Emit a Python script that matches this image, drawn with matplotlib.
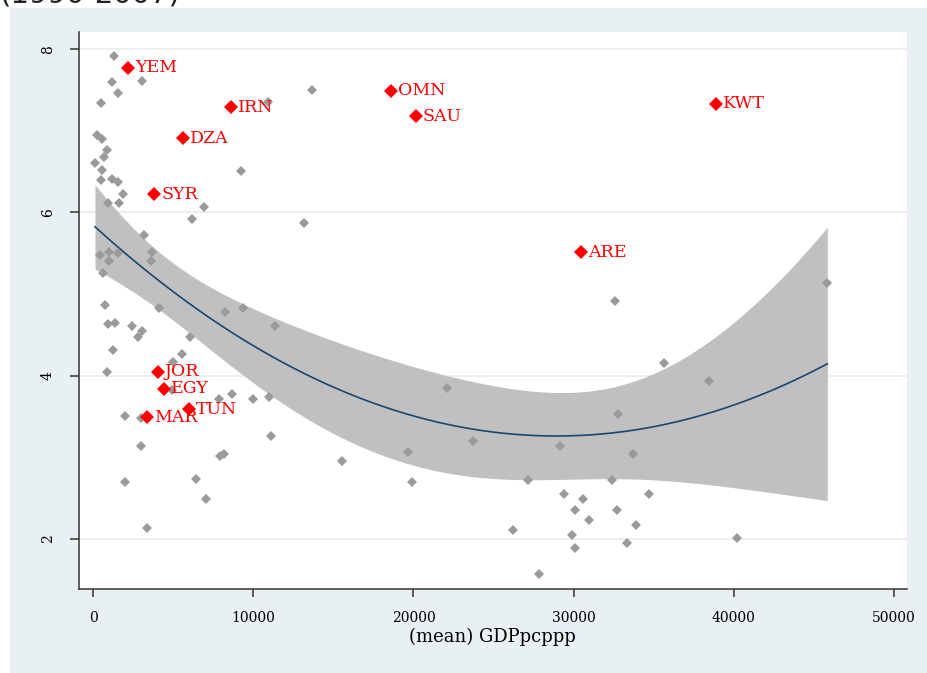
import numpy as np
import matplotlib
matplotlib.use("Agg")
import matplotlib.pyplot as plt
from matplotlib.patches import Rectangle

# country averages 1990-2007: GDP per capita (PPP) vs. index score
gdp_other = [1312, 1149, 3073, 1562, 450, 231, 543, 837, 668, 106,
             543, 481, 1168, 1562, 1874, 899, 1605, 6914, 6134, 9225,
             13679, 10931, 13179, 3179, 3666, 3573, 418, 1012, 968, 1562,
             637, 750, 4104, 8239, 9331, 11349, 937, 1355, 2448, 3023,
             2761, 6021, 1249, 5521, 4978, 856, 4897, 7851, 8644, 9944,
             10974, 1961, 2979, 11080, 2979, 7914, 8163, 1961, 6415, 7020,
             3373, 15515, 19637, 19887, 22073, 23697, 26227, 27151, 27851, 29163,
             29381, 30587, 30087, 30980, 29900, 30087, 32604, 32773, 33710, 32398,
             34740, 32710, 33928, 33316, 35646, 38475, 40187, 45846]
score_other = [7.92, 7.60, 7.61, 7.46, 7.34, 6.95, 6.90, 6.76, 6.68, 6.61,
               6.52, 6.40, 6.41, 6.37, 6.23, 6.11, 6.12, 6.07, 5.92, 6.51,
               7.50, 7.35, 5.87, 5.72, 5.51, 5.41, 5.48, 5.51, 5.40, 5.50,
               5.26, 4.87, 4.83, 4.78, 4.83, 4.61, 4.63, 4.65, 4.61, 4.55,
               4.47, 4.47, 4.32, 4.27, 4.17, 4.05, 3.82, 3.71, 3.78, 3.71,
               3.74, 3.50, 3.48, 3.26, 3.14, 3.02, 3.04, 2.70, 2.74, 2.49,
               2.13, 2.96, 3.06, 2.70, 3.85, 3.20, 2.11, 2.72, 1.57, 3.14,
               2.55, 2.49, 2.35, 2.23, 2.05, 1.89, 4.91, 3.53, 3.04, 2.72,
               2.55, 2.35, 2.17, 1.95, 4.15, 3.93, 2.01, 5.14]

# MENA countries, highlighted
mena = ["YEM", "IRN", "DZA", "SYR", "OMN", "SAU", "KWT", "ARE", "JOR", "EGY", "TUN", "MAR"]
gdp_mena = [2167, 8601, 5621, 3810, 18594, 20137, 38875, 30443, 4041, 4435, 5959, 3335]
score_mena = [7.77, 7.29, 6.91, 6.22, 7.49, 7.18, 7.33, 5.51, 4.05, 3.84, 3.59, 3.49]

xticks = [0, 10000, 20000, 30000, 40000, 50000]
yticks = [2, 4, 6, 8]

# quadratic fit with 95% CI of the prediction (like qfitci)
x_all = np.array(gdp_other + gdp_mena, dtype=float)
y_all = np.array(score_other + score_mena, dtype=float)
X = np.column_stack([np.ones_like(x_all), x_all, x_all ** 2])
beta, rss, _, _ = np.linalg.lstsq(X, y_all, rcond=None)
n = len(x_all)
s2 = np.sum((y_all - X @ beta) ** 2) / (n - 3)
xtx_inv = np.linalg.inv(X.T @ X)
xs = np.linspace(x_all.min(), x_all.max(), 200)
X0 = np.column_stack([np.ones_like(xs), xs, xs ** 2])
fit = X0 @ beta
se = np.sqrt(s2 * np.einsum("ij,jk,ik->i", X0, xtx_inv, X0))
tval = 1.984
lo, hi = fit - tval * se, fit + tval * se

W, H = 928, 673
fig = plt.figure(figsize=(W / 100, H / 100), dpi=100)
fig.patch.set_facecolor("white")
bg = "#e8f0f2"
fig.patches.append(Rectangle((10 / W, 0), 1, 1 - 8 / H, transform=fig.transFigure,
                             facecolor=bg, edgecolor="none", zorder=-10))
# end of the title line above, only its lower part is on the page
fig.text(0.0, 1 - 3 / H, "(1990-2007)", fontsize=21, color="#222222",
         ha="left", va="baseline", family="DejaVu Sans")

ax = fig.add_axes([79 / W, 1 - 588.7 / H, (906.7 - 79) / W, (588.7 - 32) / H])
ax.set_facecolor("white")

ax.fill_between(xs, lo, hi, color="#c0c0c0", linewidth=0, zorder=2)
ax.plot(xs, fit, color="#1a476f", linewidth=1.2, zorder=3)
ax.plot(gdp_other, score_other, "D", color="#9a9a9a", markersize=5.2,
        markeredgewidth=0, zorder=4)
ax.plot(gdp_mena, score_mena, "D", color="red", markersize=7,
        markeredgewidth=0, zorder=5)
for name, gx, sy in zip(mena, gdp_mena, score_mena):
    ax.annotate(name, (gx, sy), xytext=(5, 0), textcoords="offset points",
                ha="left", va="center", color="red", fontsize=12.5,
                family="DejaVu Serif", zorder=6)

ax.set_xlim(-893, 50806)
ax.set_ylim(1.39, 8.21)
ax.set_xticks(xticks)
ax.set_yticks(yticks)
ax.set_xticklabels([str(v) for v in xticks], family="DejaVu Serif", fontsize=10)
ax.set_yticklabels([str(v) for v in yticks], family="DejaVu Serif", fontsize=10,
                   rotation=90, va="center")
ax.tick_params(axis="x", direction="out", length=6, width=1.1, color="#333333", pad=10)
ax.tick_params(axis="y", direction="out", length=6.5, width=1.1, color="#333333", pad=11)
ax.grid(axis="y", color="#e6eef0", linewidth=1.3, zorder=0)
ax.set_axisbelow(True)
for side in ["top", "right"]:
    ax.spines[side].set_visible(False)
for side in ["left", "bottom"]:
    ax.spines[side].set_color("#333333")
    ax.spines[side].set_linewidth(1.1)
ax.set_xlabel("(mean) GDPpcppp", family="DejaVu Serif", fontsize=13, labelpad=2)

fig.savefig("out.png", dpi=100, facecolor=fig.get_facecolor())
